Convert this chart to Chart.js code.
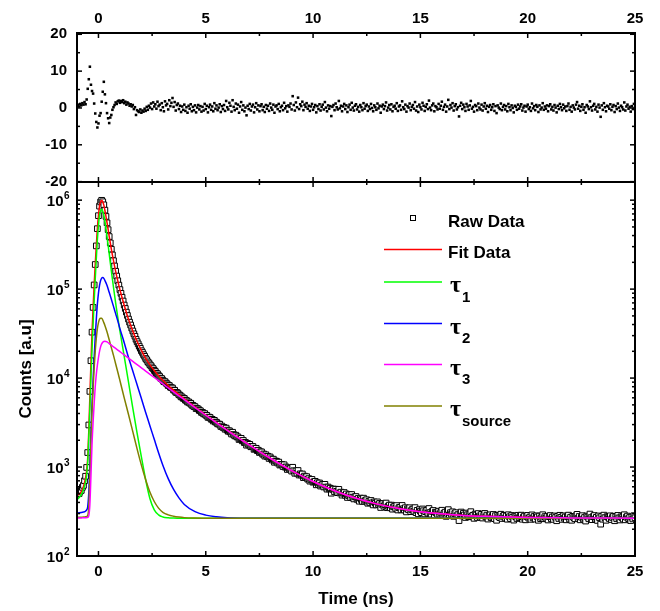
<!DOCTYPE html>
<html>
<head>
<meta charset="utf-8">
<title>Decay fit</title>
<script src="https://cdn.jsdelivr.net/npm/chart.js@4.4.1/dist/chart.umd.min.js"></script>
<style>
  html, body { margin: 0; padding: 0; background: #fff; }
</style>
</head>
<body>
<canvas id="decayChart" width="660" height="611"></canvas>
<script>
// channel grid of the raw histogram (ns)
const startTime = -1;
const channelWidth = 0.05;

// tick labels
const timeTicks = [0, 5, 10, 15, 20, 25];
const residualTicks = [-20, -10, 0, 10, 20];
const decadeExps = [2, 3, 4, 5, 6];

// raw counts, one per channel
const rawCounts = [
  493, 505, 504, 535, 546, 591, 622, 701, 788, 990, 1455, 2970, 7088, 15670, 32820, 62270, 111400, 189050, 306100, 478020,
  669260, 856750, 954630, 996400, 959500, 885860, 772440, 656050, 556650, 466080, 390030, 331000, 280590, 242150, 208790, 182140, 158900,
  140310, 124230, 110960, 98840, 89670, 81050, 73470, 66230, 60620, 55110, 50540, 46060, 42520, 39500, 36480, 33850, 31450, 29530, 27290, 25700,
  24260, 22830, 21640, 20310, 19400, 18360, 17570, 16600, 16040, 15240, 14770, 14110, 13740, 13070, 12770, 12190, 11860, 11340, 11170, 10680,
  10410, 9960, 9860, 9460, 9100, 9120, 8790, 8590, 8230, 8250, 7910, 7800, 7730, 7340, 7290, 6930, 6890, 6770, 6490, 6420,
  6150, 6130, 5920, 5900, 5650, 5600, 5380, 5400, 5230, 5210, 4960, 4940, 4780, 4770, 4540, 4540, 4490, 4320, 4290, 4110,
  4110, 3960, 3990, 3830, 3810, 3620, 3640, 3610, 3450, 3440, 3290, 3350, 3200, 3190, 3060, 3040, 3030, 2860, 2890, 2790,
  2790, 2660, 2740, 2600, 2520, 2560, 2470, 2350, 2460, 2320, 2240, 2280, 2180, 2180, 2040, 2080, 2100, 1970, 1990, 1880,
  1890, 1760, 1840, 1770, 1800, 1690, 1710, 1700, 1580, 1610, 1625, 1530, 1545, 1457, 1485, 1479, 1393, 1403, 1327, 1375,
  1315, 1322, 1249, 1298, 1239, 1198, 1226, 1131, 1170, 1161, 1109, 1137, 1053, 1073, 1068, 1013, 1061, 997, 1001, 939,
  977, 949, 962, 900, 994, 909, 851, 903, 853, 915, 813, 839, 813, 836, 760, 791, 763, 780, 730, 741,
  694, 717, 726, 675, 684, 691, 631, 666, 637, 662, 611, 629, 636, 597, 639, 595, 564, 596, 567, 578,
  508, 560, 566, 527, 563, 534, 515, 561, 511, 522, 483, 507, 517, 481, 498, 455, 478, 490, 454, 491,
  459, 438, 462, 466, 433, 444, 413, 447, 431, 411, 447, 413, 424, 429, 392, 413, 396, 421, 396, 375,
  405, 392, 375, 406, 379, 390, 351, 381, 388, 363, 377, 394, 349, 362, 373, 348, 373, 336, 357, 360,
  343, 369, 329, 349, 353, 330, 370, 340, 329, 349, 313, 339, 331, 349, 315, 330, 337, 318, 350, 307,
  326, 298, 332, 319, 307, 338, 323, 297, 315, 327, 303, 342, 308, 295, 317, 325, 287, 311, 305, 294,
  319, 296, 309, 327, 288, 302, 311, 279, 302, 332, 289, 307, 295, 314, 279, 300, 307, 283, 292, 250,
  298, 312, 282, 301, 289, 271, 304, 291, 276, 296, 315, 280, 287, 265, 296, 289, 271, 300, 282, 273,
  294, 267, 286, 301, 275, 288, 260, 282, 290, 269, 279, 293, 263, 284, 252, 287, 277, 270, 295, 264,
  279, 287, 267, 282, 259, 291, 276, 263, 285, 273, 253, 282, 277, 264, 287, 269, 279, 288, 259, 273,
  281, 255, 278, 286, 266, 274, 258, 290, 268, 278, 260, 283, 275, 252, 281, 263, 272, 291, 262, 277,
  266, 280, 254, 277, 285, 262, 274, 258, 282, 271, 249, 279, 264, 287, 272, 258, 283, 266, 275, 255,
  276, 288, 260, 273, 252, 279, 270, 262, 283, 294, 265, 278, 255, 273, 284, 260, 271, 247, 281, 274,
  262, 296, 270, 256, 277, 285, 260, 272, 251, 282, 269, 228, 278, 259, 288, 270, 252, 277, 273, 264,
  283, 257, 271, 280, 249, 275, 262, 286, 268, 254, 276, 270, 260, 291, 255, 273, 281, 263, 271, 250,
  274, 261, 284, 269
];

// weighted residuals, same channels
const residuals = [
  0.6, 0.9, 0.4, 1.1, 0.7, 1.3, 0.9, 1.6, 1.0, 2.3, 5.2, 7.8, 11.2, 6.3, 4.6, 3.9, 1.2, -1.5, -3.8, -5.3,
  -4.2, -2.1, -1.4, 1.7, 4.4, 7.1, 3.7, 1.3, -1.4, -2.8, -4.1, -2.6, -1.9, -0.5, 0.2, 0.8, 1.5,
  1.1, 1.8, 2.0, 1.4, 1.9, 1.6, 2.1, 1.3, 1.7, 0.9, 1.5, 1.2, 0.6, 1.0, 0.4, 0.8, -0.3, 0.2, -1.9, -0.6,
  -0.9, -1.1, -0.4, -1.3, -0.7, -1.0, -0.2, -0.8, 0.3, -0.5, 0.6, 0.1, 1.2, -0.3, 1.5, 0.4, 1.0, -0.2, 1.7, 0.5,
  0.9, -0.6, 1.3, 0.2, -0.9, 1.8, 0.7, 1.1, -0.4, 2.1, 0.5, 1.4, 2.7, 0.3, 1.6, -0.7, 0.8, 1.2, -0.3, 0.6,
  -1.1, 0.4, -0.5, 0.9, -0.8, 0.2, -1.3, 0.6, -0.2, 1.0, -0.9, 0.3, -0.6, 0.7, -1.2, 0.1, 0.8, -0.4, 0.5, -1.0,
  0.3, -0.7, 1.1, -0.3, 0.6, -1.2, 0.2, 0.9, -0.5, 0.4, -0.9, 1.3, -0.2, 0.7, -0.6, 0.1, 1.0, -1.1, 0.5, -0.3,
  0.8, -0.8, 1.9, 0.2, -0.4, 1.4, 0.6, -1.0, 2.1, 0.3, -0.6, 1.2, -0.2, 0.9, -1.3, 0.4, 1.6, -0.5, 0.7, -0.9,
  0.1, -2.0, 0.6, -0.3, 1.1, -0.7, 0.4, 0.9, -1.2, 0.2, 1.3, -0.4, 0.7, -0.9, 0.5, 1.0, -0.6, 0.3, -1.1, 0.8,
  -0.2, 0.6, -0.8, 1.2, 0.1, -0.5, 0.9, -1.3, 0.4, 0.7, -0.3, 1.1, -0.9, 0.2, 0.6, -0.6, 1.4, -0.1, 0.5, -1.0,
  0.7, 0.3, 1.2, -0.4, 3.2, 0.8, -0.7, 1.5, 0.2, 2.8, -0.3, 1.0, 0.5, 1.7, -0.6, 0.9, 0.3, 1.3, -0.2, 0.6,
  -0.8, 0.4, 1.1, -0.5, 0.2, 0.8, -1.2, 0.5, -0.3, 1.0, -0.7, 0.3, 0.9, -0.4, 1.6, 0.1, -0.9, 0.7, -0.2, 0.5,
  -2.2, 0.3, 0.8, -0.6, 1.2, 0.2, -0.4, 1.9, -0.1, 0.6, -0.9, 0.4, 1.1, -0.3, 0.7, -1.1, 0.2, 0.9, -0.5, 1.4,
  0.1, -0.7, 0.6, 1.0, -0.4, 0.3, -1.0, 0.8, 0.2, -0.6, 1.3, -0.2, 0.5, 0.9, -0.8, 0.4, -0.3, 1.1, 0.0, -0.9,
  0.7, 0.2, -0.5, 1.2, -0.1, 0.6, -1.3, 0.4, 0.9, -0.3, 0.5, 1.5, -0.7, 0.1, 0.8, -0.4, 1.0, -0.9, 0.3, 0.6,
  -0.2, 1.3, -0.8, 0.4, 0.7, -0.5, 1.8, 0.2, -0.3, 0.9, -1.0, 0.5, 0.1, 1.2, -0.6, 0.3, 0.8, -0.2, 1.6, -0.7,
  0.4, -1.1, 0.9, 0.2, -0.4, 1.4, 0.6, -0.8, 0.3, 1.0, -0.3, 2.0, 0.1, -0.6, 0.7, 1.2, -0.9, 0.5, 0.2, -0.4,
  1.1, -0.2, 0.6, 1.7, -0.5, 0.3, 0.9, -1.0, 0.4, 2.2, -0.3, 0.8, 0.1, 1.3, -0.7, 0.5, 1.0, -0.4, 0.2, -2.3,
  0.6, 1.4, -0.3, 0.9, 0.2, -0.8, 1.1, 0.4, -0.5, 0.7, 1.9, -0.2, 0.3, -1.0, 0.8, 0.5, -0.6, 1.2, 0.1, -0.4,
  0.9, -0.7, 0.4, 1.3, -0.2, 0.6, -1.1, 0.3, 0.8, -0.5, 0.2, 1.0, -0.8, 0.5, -1.4, 0.7, 0.1, -0.3, 1.2, -0.6,
  0.3, 0.8, -0.4, 0.5, -0.9, 1.1, 0.2, -0.6, 0.7, 0.0, -1.2, 0.6, 0.3, -0.5, 0.9, -0.2, 0.4, 1.0, -0.7, 0.1,
  0.6, -1.0, 0.4, 0.9, -0.3, 0.2, -0.8, 1.2, -0.1, 0.5, -0.6, 0.8, 0.3, -1.1, 0.7, -0.4, 0.1, 1.3, -0.5, 0.4,
  -0.2, 0.7, -0.9, 0.5, 1.0, -0.4, 0.3, -0.7, 0.8, 0.1, -1.2, 0.6, -0.3, 1.1, 0.2, -0.6, 0.9, -0.1, 0.4, -0.8,
  0.5, 1.2, -0.5, 0.3, -1.0, 0.7, 0.1, -0.4, 0.9, 1.6, -0.2, 0.6, -0.8, 0.3, 1.0, -0.5, 0.2, -1.3, 0.8, 0.4,
  -0.3, 1.8, 0.2, -0.7, 0.6, 1.1, -0.4, 0.3, -1.0, 0.9, 0.1, -2.4, 0.7, -0.5, 1.3, 0.2, -0.9, 0.6, 0.4, -0.2,
  1.0, -0.6, 0.3, 0.8, -1.1, 0.5, -0.3, 1.2, 0.1, -0.8, 0.6, 0.2, -0.4, 1.5, -0.7, 0.4, 0.9, -0.2, 0.3, -1.0,
  0.5, -0.3, 1.1, 0.2
];

// fit curve and its components, sampled at fitTime
const fitTime = [-1, -0.9, -0.8, -0.7, -0.6, -0.55, -0.5, -0.45, -0.4, -0.35, -0.3, -0.25, -0.2, -0.15, -0.1, -0.05,
  0, 0.05, 0.1, 0.15, 0.2, 0.25, 0.3, 0.4, 0.5, 0.6, 0.7, 0.8, 0.9, 1, 1.2, 1.4, 1.6, 1.8, 2, 2.2, 2.4, 2.6, 2.8, 3,
  3.25, 3.5, 3.75, 4, 4.5, 5, 5.5, 6, 7, 8, 9, 10, 11, 12, 13, 14, 15, 16, 17, 18, 20, 22, 25];

const fitCounts = [480, 495, 530, 600, 760, 920, 1270, 2575, 6205, 14900, 32000, 61300, 111000, 189700, 308200, 481700,
  672700, 858700, 956000, 994700, 955200, 879200, 769200, 557700, 392600, 281600, 208700, 158300, 123600, 98400,
  65900, 45800, 33700, 25800, 20500, 16700, 14100, 12150, 10630, 9440,
  8265, 7316, 6517, 5832, 4719, 3846, 3151, 2594, 1783, 1256, 912, 688, 541, 445, 383, 342, 315, 298, 286, 279, 271, 268, 266];

const tau1 = [430, 455, 490, 560, 680, 820, 1150, 2200, 4600, 10000, 21000, 40000, 74000, 130000, 220000, 360000,
  520000, 680000, 760000, 790000, 750000, 680000, 580000, 390000, 250000, 160000, 105000, 70000, 48000, 34000,
  17500, 9000, 4600, 2400, 1300, 720, 440, 330, 290, 275,
  269, 267, 266, 265, 265, 265, 265, 265, 265, 265, 265, 265, 265, 265, 265, 265, 265, 265, 265, 265, 265, 265, 265];

const tau2 = [305, 306, 308, 312, 320, 330, 360, 520, 1100, 2500, 5000, 9500, 17000, 29000, 46000, 68000,
  90000, 110000, 125000, 133000, 135000, 132000, 125000, 110000, 92000, 77000, 64000, 53000, 44000, 36000,
  25000, 17000, 12000, 8400, 5900, 4100, 2900, 2050, 1450, 1050,
  740, 560, 450, 380, 315, 288, 276, 270, 266, 265, 265, 265, 265, 265, 265, 265, 265, 265, 265, 265, 265, 265, 265];

const tau3 = [268, 268, 268, 269, 269, 270, 272, 285, 380, 800, 1800, 3200, 5200, 8000, 11000, 14000,
  17000, 20000, 22500, 24200, 25300, 25800, 26000, 25500, 24450, 23440, 22470, 21550, 20660, 19810,
  18210, 16750, 15400, 14170, 13030, 11990, 11030, 10150, 9344, 8601,
  7761, 7004, 6323, 5712, 4667, 3822, 3140, 2589, 1783, 1256, 912, 688, 541, 445, 383, 342, 315, 298, 286, 279, 271, 268, 266];

const tauSource = [272, 272, 273, 274, 276, 278, 285, 360, 800, 2000, 4200, 7800, 13000, 20000, 28000, 36000,
  42000, 46000, 47000, 47000, 45000, 42000, 39000, 33000, 27000, 22000, 18000, 14500, 11700, 9400,
  6000, 3900, 2500, 1600, 1050, 720, 520, 410, 345, 310,
  290, 280, 274, 270, 267, 266, 265, 265, 265, 265, 265, 265, 265, 265, 265, 265, 265, 265, 265, 265, 265, 265, 265];

const FONT = '"Liberation Sans", Arial, Helvetica, sans-serif';

const channelTime = rawCounts.map((_, i) => +(startTime + i * channelWidth).toFixed(2));
const pairs = (xs, ys) => ys.map((y, i) => ({x: xs[i], y: y}));

function fitLine(label, values, color, order) {
  return {
    label: label,
    data: pairs(fitTime, values),
    yAxisID: 'yLog',
    showLine: true,
    borderColor: color,
    backgroundColor: color,
    borderWidth: 1.5,
    pointRadius: 0,
    cubicInterpolationMode: 'monotone',
    order: order
  };
}

// inward tick marks and frames for both panels
const framePlugin = {
  id: 'framePlugin',
  afterDraw(chart) {
    const {ctx, chartArea: area, scales} = chart;
    const xs = scales.x, yRes = scales.yRes, yLog = scales.yLog;
    const tick = (x1, y1, x2, y2) => { ctx.beginPath(); ctx.moveTo(x1, y1); ctx.lineTo(x2, y2); ctx.stroke(); };
    ctx.save();
    ctx.strokeStyle = '#000';
    ctx.lineWidth = 1.5;

    for (let v = 0; v <= 25; v += 2.5) {
      const px = xs.getPixelForValue(v);
      const len = v % 5 === 0 ? 5 : 3;
      [yRes, yLog].forEach(s => {
        tick(px, s.top, px, s.top + len);
        tick(px, s.bottom, px, s.bottom - len);
      });
    }
    for (let v = -20; v <= 20; v += 5) {
      const py = yRes.getPixelForValue(v);
      const len = v % 10 === 0 ? 5 : 3;
      tick(area.left, py, area.left + len, py);
      tick(area.right, py, area.right - len, py);
    }
    decadeExps.forEach(e => {
      for (let m = 1; m <= 9; m++) {
        const val = m * Math.pow(10, e);
        if (val > yLog.max) break;
        const py = yLog.getPixelForValue(val);
        const len = m === 1 ? 5 : 3;
        tick(area.left, py, area.left + len, py);
        tick(area.right, py, area.right - len, py);
      }
    });

    ctx.lineWidth = 2;
    ctx.strokeRect(area.left, yRes.top, area.right - area.left, yRes.bottom - yRes.top);
    ctx.strokeRect(area.left, yLog.top, area.right - area.left, yLog.bottom - yLog.top);

    // 10^n labels of the log axis
    ctx.fillStyle = '#000';
    decadeExps.forEach(e => {
      const py = yLog.getPixelForValue(Math.pow(10, e));
      ctx.font = 'bold 15px ' + FONT;
      ctx.textAlign = 'right';
      ctx.textBaseline = 'alphabetic';
      ctx.fillText('10', 63.5, py + 6);
      ctx.font = 'bold 10px ' + FONT;
      ctx.textAlign = 'left';
      ctx.fillText(String(e), 64, py - 1);
    });
    ctx.restore();
  }
};

// legend with subscripts, drawn inside the lower panel
const legendPlugin = {
  id: 'tauLegend',
  afterDraw(chart) {
    const {ctx} = chart;
    const rowY = [218, 249.5, 282, 323.5, 364.5, 406];
    const sets = chart.data.datasets.filter(d => d.yAxisID === 'yLog');
    ctx.save();
    sets.forEach((ds, i) => {
      const y = rowY[i];
      if (!ds.showLine) {
        ctx.fillStyle = '#fff';
        ctx.strokeStyle = '#000';
        ctx.lineWidth = 1;
        ctx.fillRect(410.5, y - 2.5, 5, 5);
        ctx.strokeRect(410.5, y - 2.5, 5, 5);
      } else {
        ctx.strokeStyle = ds.borderColor;
        ctx.lineWidth = 1.5;
        ctx.beginPath();
        ctx.moveTo(384, y);
        ctx.lineTo(442, y);
        ctx.stroke();
      }
      ctx.fillStyle = '#000';
      ctx.textAlign = 'left';
      ctx.textBaseline = 'alphabetic';
      if (ds.label.startsWith('τ')) {
        ctx.font = 'bold 24px "Liberation Serif", "DejaVu Serif", serif';
        ctx.fillText('τ', 450, y + 10);
        ctx.font = 'bold 15px ' + FONT;
        ctx.fillText(ds.label.slice(1), 462, y + 19.5);
      } else {
        ctx.font = 'bold 17px ' + FONT;
        ctx.fillText(ds.label, 448, y + 8.5);
      }
    });
    ctx.restore();
  }
};

const tickFont = {family: FONT, size: 15, weight: 'bold'};
const titleFont = {family: FONT, size: 17, weight: 'bold'};

new Chart(document.getElementById('decayChart'), {
  type: 'scatter',
  data: {
    datasets: [
      {
        label: 'Raw Data',
        data: pairs(channelTime, rawCounts),
        yAxisID: 'yLog',
        showLine: false,
        pointStyle: 'rect',
        pointRadius: 4,
        borderWidth: 1,
        borderColor: '#000',
        backgroundColor: '#fff',
        order: 6
      },
      fitLine('Fit Data', fitCounts, '#ff0000', 5),
      fitLine('τ1', tau1, '#00ff00', 4),
      fitLine('τ2', tau2, '#0000ff', 3),
      fitLine('τ3', tau3, '#ff00ff', 1),
      fitLine('τsource', tauSource, '#808000', 2),
      {
        label: 'Residuals',
        data: pairs(channelTime, residuals),
        yAxisID: 'yRes',
        showLine: false,
        pointStyle: 'rect',
        pointRadius: 1.8,
        borderWidth: 0,
        backgroundColor: '#000',
        order: 0
      }
    ]
  },
  options: {
    responsive: false,
    animation: false,
    events: [],
    devicePixelRatio: 1,
    layout: {padding: {left: 0, right: 25, top: 0, bottom: 0}},
    plugins: {legend: {display: false}, tooltip: {enabled: false}},
    scales: {
      x: {
        type: 'linear', position: 'bottom', min: -1, max: 25,
        grid: {display: false, drawTicks: false}, border: {display: false},
        afterBuildTicks: s => { s.ticks = timeTicks.map(v => ({value: v})); },
        ticks: {autoSkip: false, maxRotation: 0, padding: 7, color: '#000', font: tickFont},
        title: {display: true, text: 'Time (ns)', color: '#000', font: titleFont, padding: {top: 0, bottom: 1}},
        afterFit: s => { s.height = 55; }
      },
      xTop: {
        type: 'linear', position: 'top', min: -1, max: 25,
        grid: {display: false, drawTicks: false}, border: {display: false},
        afterBuildTicks: s => { s.ticks = timeTicks.map(v => ({value: v})); },
        ticks: {autoSkip: false, maxRotation: 0, padding: 5, color: '#000', font: tickFont},
        afterFit: s => { s.height = 33; }
      },
      yLog: {
        type: 'logarithmic', position: 'left', stack: 'panels', stackWeight: 374,
        min: 100, max: 1.6e6,
        grid: {display: false, drawTicks: false}, border: {display: false},
        ticks: {display: false},
        title: {display: true, text: 'Counts [a.u]', color: '#000', font: titleFont, padding: {top: 16, bottom: 0}},
        afterFit: s => { s.width = 77; }
      },
      yRes: {
        type: 'linear', position: 'left', stack: 'panels', stackWeight: 149,
        min: -20.1, max: 20.35,
        grid: {display: false, drawTicks: false}, border: {display: false},
        afterBuildTicks: s => { s.ticks = residualTicks.map(v => ({value: v})); },
        ticks: {autoSkip: false, padding: 10, color: '#000', font: tickFont},
        afterFit: s => { s.width = 77; }
      }
    }
  },
  plugins: [framePlugin, legendPlugin]
});
</script>
</body>
</html>
